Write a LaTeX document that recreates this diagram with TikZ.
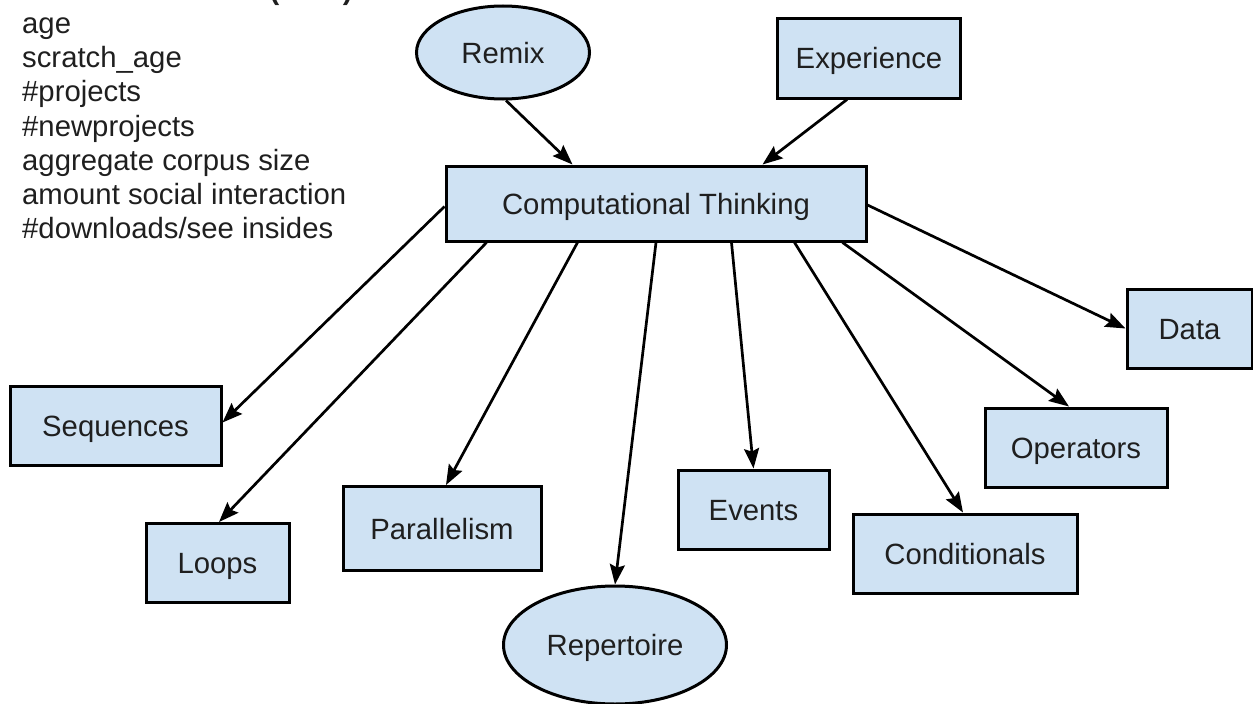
\documentclass[tikz,border=0pt]{standalone}
\usepackage{fontspec}
\setmainfont{Liberation Sans}
\usetikzlibrary{shapes.geometric,arrows.meta,calc}
\definecolor{boxfill}{HTML}{CFE2F3}
\definecolor{ink}{HTML}{1F1F1F}
\begin{document}
\begin{tikzpicture}[x=1pt,y=-1pt,
  every node/.style={font=\fontsize{29.3}{34}\selectfont, text=ink},
  cvtext/.style={anchor=base west, inner sep=0pt},
  rectbox/.style={draw=black, line width=3pt, fill=boxfill, inner sep=0pt,
    text height=21pt, text depth=0pt, minimum width=#1, minimum height=79pt},
  ellbox/.style={ellipse, draw=black, line width=3pt, fill=boxfill, inner sep=0pt,
    text height=21pt, text depth=0pt},
  conn/.style={line width=2.7pt, draw=black, -{Stealth[length=20pt,width=15pt,inset=3pt]}}
]
\useasboundingbox (0,0) rectangle (1253,704);

% control variables list
\node[cvtext, font=\bfseries\fontsize{29.3}{34}\selectfont] (cvtitle) at (22,-0.7) {Control variables (H1-3)};
\node[cvtext] (cv1) at (22,33.5) {age};
\node[cvtext] (cv2) at (22,67.7) {scratch\_age};
\node[cvtext] (cv3) at (22,101.9) {\#projects};
\node[cvtext] (cv4) at (22,136.1) {\#newprojects};
\node[cvtext] (cv5) at (22,170.3) {aggregate corpus size};
\node[cvtext] (cv6) at (22,204.5) {amount social interaction};
\node[cvtext] (cv7) at (22,238.7) {\#downloads/see insides};

% nodes
\node[ellbox, minimum width=173pt, minimum height=93pt] (remix) at (503,52.5) {Remix};
\node[rectbox=183pt, minimum height=80pt] (exp) at (869,58) {Experience};
\node[rectbox=420pt, minimum height=75pt] (ct) at (656,203.5) {Computational Thinking};
\node[rectbox=211pt] (seq) at (115.5,425.5) {Sequences};
\node[rectbox=143pt] (loops) at (217.5,563) {Loops};
\node[rectbox=198pt, minimum height=84pt] (par) at (442,528.5) {Parallelism};
\node[ellbox, minimum width=223pt, minimum height=118pt] (rep) at (615,645) {Repertoire};
\node[rectbox=151pt] (events) at (753.5,509.5) {Events};
\node[rectbox=224pt] (cond) at (965,553.5) {Conditionals};
\node[rectbox=182pt] (ops) at (1076,447.5) {Operators};
\node[rectbox=125pt] (data) at (1189.5,328.5) {Data};

% connectors
\draw[conn] ($(remix.south)+(3,0)$) -- ($(ct.north west)+(128,0)$);
\draw[conn] ($(exp.south)+(-22,0)$) -- ($(ct.north west)+(318,0)$);
\draw[conn] ($(ct.west)+(0,3)$) -- ($(seq.east)+(0,-3)$);
\draw[conn] ($(ct.south west)+(42,0)$) -- ($(loops.north)+(1.5,0)$);
\draw[conn] ($(ct.south west)+(133,0)$) -- ($(par.north)+(4,0)$);
\draw[conn] (ct.south) -- (rep.north);
\draw[conn] ($(ct.south west)+(287,0)$) -- (events.north);
\draw[conn] ($(ct.south west)+(350,0)$) -- ($(cond.north)+(-2,0)$);
\draw[conn] ($(ct.south west)+(398,0)$) -- ($(ops.north)+(-7,0)$);
\draw[conn] ($(ct.east)+(0,1.5)$) -- (data.west);
\end{tikzpicture}
\end{document}
